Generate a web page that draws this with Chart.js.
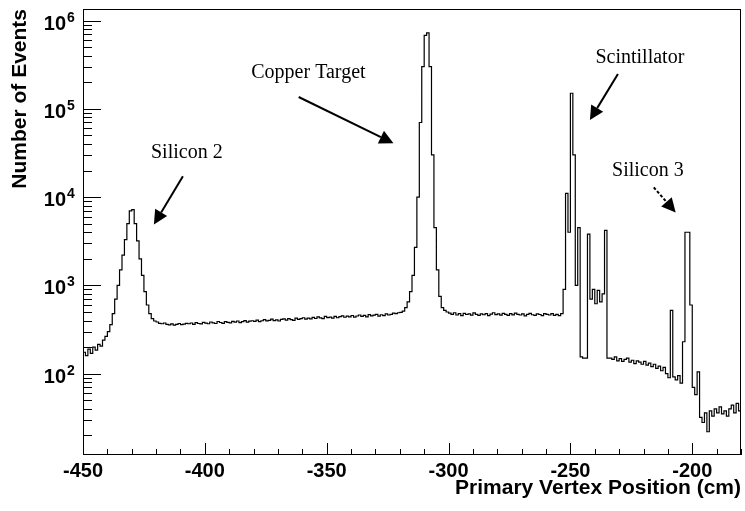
<!DOCTYPE html>
<html lang="en">
  <head>
    <meta charset="UTF-8" />
    <title>Primary Vertex Position</title>
    <script src="https://cdn.jsdelivr.net/npm/chart.js"></script>
    <style>
      html,
      body {
        margin: 0;
        padding: 0;
        background: #fff;
      }
      #wrap {
        width: 745px;
        height: 511px;
      }
    </style>
  </head>
  <body>
    <div id="wrap">
      <canvas id="vertexChart" width="745" height="511"></canvas>
    </div>

    <script>
      // histogram, 1 cm bins, first bin starts at -450 cm
      const binStart = -450;
      const binWidth = 1;
      const counts = [
        175, 160, 190, 170, 200, 185, 215, 205, 240, 265, // -450
        300, 360, 480, 700, 1000, 1500, 2200, 3300, 5000, 7000, // -440
        7200, 5000, 3200, 2000, 1300, 850, 600, 480, 420, 395, // -430
        385, 372, 368, 375, 362, 358, 366, 355, 362, 370, // -420
        360, 365, 372, 368, 375, 362, 378, 370, 366, 382, // -410
        374, 368, 385, 377, 370, 390, 380, 372, 388, 381, // -400
        376, 392, 384, 395, 379, 388, 400, 384, 393, 398, // -390
        392, 405, 388, 398, 410, 396, 402, 415, 400, 408, // -380
        395, 412, 418, 404, 420, 410, 402, 425, 412, 420, // -370
        430, 414, 426, 418, 435, 422, 440, 428, 420, 445, // -360
        432, 438, 425, 446, 430, 442, 452, 436, 448, 440, // -350
        456, 438, 450, 462, 445, 458, 440, 466, 452, 460, // -340
        470, 448, 465, 455, 475, 462, 470, 485, 478, 490, // -330
        495, 510, 560, 650, 850, 1300, 2700, 10000, 70000, 300000, // -320
        680000, 725000, 300000, 30000, 4500, 1500, 750, 560, 520, 500, // -310
        485, 470, 490, 462, 478, 455, 482, 468, 475, 460, // -300
        488, 470, 458, 476, 465, 480, 455, 472, 490, 466, // -290
        475, 460, 482, 470, 458, 478, 464, 486, 470, 462, // -280
        475, 452, 470, 482, 465, 458, 476, 468, 455, 480, // -270
        470, 462, 478, 458, 470, 455, 480, 900, 11000, 4000, // -260
        150000, 30000, 1000, 4500, 155, 150, 150, 3800, 700, 900, // -250
        620, 880, 650, 800, 4200, 150, 150, 145, 155, 140, // -240
        148, 138, 145, 150, 135, 142, 130, 140, 135, 128, // -230
        138, 125, 132, 120, 128, 115, 122, 108, 118, 100, // -220
        90, 520, 92, 85, 95, 78, 230, 4000, 4000, 600, // -210
        70, 58, 105, 32, 28, 36, 22, 38, 33, 40, // -200
        36, 42, 35, 38, 33, 40, 44, 36, 46, 38, // -190
      ];

      const xMin = -450;
      const xMax = -180;
      const yMin = 12;
      const yMax = 1.35e6;
      const xMinorStep = 10;
      const xMajorStep = 50;

      const notes = [
        { text: "Silicon 2", x: -407.4, y: 28000, from: [-409, 17200], to: [-420.9, 4900] },
        { text: "Copper Target", x: -357.5, y: 224000, from: [-361.5, 136000], to: [-322.6, 40700] },
        { text: "Scintillator", x: -221.5, y: 330000, from: [-230.5, 248000], to: [-242, 74500] },
        { text: "Silicon 3", x: -218.2, y: 17200, from: [-215.8, 12900], to: [-206.8, 6700], dashed: true },
      ];

      const points = counts.map((c, i) => ({ x: binStart + i * binWidth, y: c }));
      points.push({ x: binStart + counts.length * binWidth, y: counts[counts.length - 1] });

      const sans = "'Liberation Sans', Arial, Helvetica, sans-serif";
      const serif = "'Liberation Serif', 'Times New Roman', serif";

      function arrow(ctx, x1, y1, x2, y2, dashed) {
        const dx = x2 - x1;
        const dy = y2 - y1;
        const len = Math.hypot(dx, dy);
        const ux = dx / len;
        const uy = dy / len;
        const headLen = 14;
        const half = 7;
        const bx = x2 - ux * headLen;
        const by = y2 - uy * headLen;
        ctx.save();
        ctx.strokeStyle = "#000";
        ctx.fillStyle = "#000";
        ctx.lineWidth = 2;
        if (dashed) ctx.setLineDash([3, 2]);
        ctx.beginPath();
        ctx.moveTo(x1, y1);
        ctx.lineTo(bx, by);
        ctx.stroke();
        ctx.setLineDash([]);
        ctx.beginPath();
        ctx.moveTo(x2, y2);
        ctx.lineTo(bx - uy * half, by + ux * half);
        ctx.lineTo(bx + uy * half, by - ux * half);
        ctx.closePath();
        ctx.fill();
        ctx.restore();
      }

      // ROOT-like frame: inside ticks, 10^n labels, text + arrows
      const rootStyle = {
        id: "rootStyle",
        afterDraw(chart) {
          const { ctx, chartArea: a, scales } = chart;
          const xs = scales.x;
          const ys = scales.y;
          ctx.save();
          ctx.strokeStyle = "#000";
          ctx.lineWidth = 1;
          ctx.strokeRect(a.left + 0.5, a.top + 0.5, a.right - a.left - 1, a.bottom - a.top - 1);

          ctx.beginPath();
          for (let v = xMin; v <= xMax; v += xMinorStep) {
            const px = Math.round(xs.getPixelForValue(v)) + 0.5;
            const len = v % xMajorStep === 0 ? 12 : 6;
            ctx.moveTo(px, a.bottom);
            ctx.lineTo(px, a.bottom - len);
          }
          const lo = Math.floor(Math.log10(yMin));
          const hi = Math.ceil(Math.log10(yMax));
          for (let e = lo; e <= hi; e++) {
            for (let k = 1; k <= 9; k++) {
              const v = k * Math.pow(10, e);
              if (v < yMin || v > yMax) continue;
              const py = Math.round(ys.getPixelForValue(v)) + 0.5;
              ctx.moveTo(a.left, py);
              ctx.lineTo(a.left + (k === 1 ? 18 : 9), py);
            }
          }
          ctx.stroke();

          ctx.fillStyle = "#000";
          for (let e = lo; e <= hi; e++) {
            const v = Math.pow(10, e);
            if (v < yMin || v > yMax) continue;
            const py = ys.getPixelForValue(v);
            ctx.font = "bold 20px " + sans;
            ctx.textAlign = "right";
            ctx.textBaseline = "alphabetic";
            ctx.fillText("10", 66, py + 9);
            ctx.font = "bold 14px " + sans;
            ctx.textAlign = "left";
            ctx.fillText(String(e), 67, py + 1);
          }

          ctx.font = "20px " + serif;
          ctx.textAlign = "center";
          ctx.textBaseline = "alphabetic";
          notes.forEach((n) => {
            ctx.fillText(n.text, xs.getPixelForValue(n.x), ys.getPixelForValue(n.y));
            arrow(
              ctx,
              xs.getPixelForValue(n.from[0]),
              ys.getPixelForValue(n.from[1]),
              xs.getPixelForValue(n.to[0]),
              ys.getPixelForValue(n.to[1]),
              n.dashed
            );
          });
          ctx.restore();
        },
      };

      new Chart(document.getElementById("vertexChart"), {
        type: "line",
        data: {
          datasets: [
            {
              label: "Events",
              data: points,
              stepped: "before",
              borderColor: "#000",
              borderWidth: 1.2,
              pointRadius: 0,
              fill: false,
              tension: 0,
            },
          ],
        },
        options: {
          responsive: false,
          devicePixelRatio: 1,
          animation: false,
          layout: { padding: { top: 9, right: 3, left: 0, bottom: 0 } },
          plugins: {
            legend: { display: false },
            tooltip: { enabled: false },
          },
          scales: {
            x: {
              type: "linear",
              min: xMin,
              max: xMax,
              grid: { display: false, drawTicks: false },
              border: { display: false },
              ticks: {
                stepSize: xMinorStep,
                autoSkip: false,
                maxRotation: 0,
                padding: 4,
                color: "#000",
                font: { family: sans, weight: "bold", size: 20 },
                callback: (v) => (v % xMajorStep === 0 ? String(v) : ""),
              },
              title: {
                display: true,
                text: "Primary Vertex Position (cm)",
                align: "end",
                color: "#000",
                font: { family: sans, weight: "bold", size: 21, lineHeight: 1 },
                padding: { top: 0, bottom: 12 },
              },
              afterFit(scale) {
                scale.height = 56;
              },
            },
            y: {
              type: "logarithmic",
              min: yMin,
              max: yMax,
              grid: { display: false, drawTicks: false },
              border: { display: false },
              ticks: { display: false },
              title: {
                display: true,
                text: "Number of Events",
                align: "end",
                color: "#000",
                font: { family: sans, weight: "bold", size: 21, lineHeight: 1 },
                padding: { top: 10, bottom: 0 },
              },
              afterFit(scale) {
                scale.width = 83;
              },
            },
          },
        },
        plugins: [rootStyle],
      });
    </script>
  </body>
</html>
